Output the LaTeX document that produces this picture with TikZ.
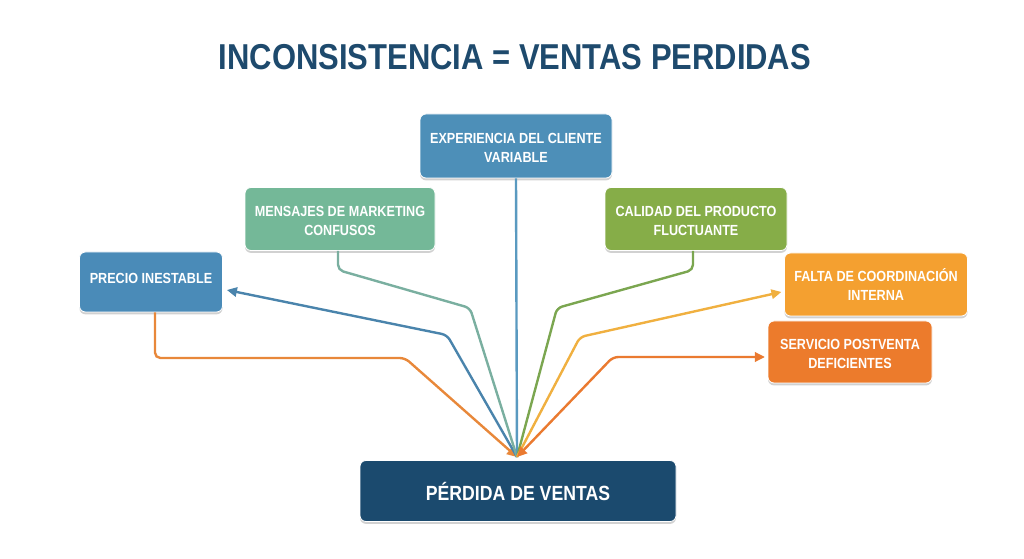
\documentclass[tikz,border=0pt]{standalone}
\usepackage{fontspec}
\setmainfont{Liberation Sans}[FakeStretch=0.86]
\usetikzlibrary{shadows,arrows.meta}
\definecolor{navy}{HTML}{1E4A6D}
\definecolor{cexp}{HTML}{4D8FB8}
\definecolor{cpre}{HTML}{4A8BB8}
\definecolor{cmen}{HTML}{74B898}
\definecolor{ccal}{HTML}{86AD48}
\definecolor{cfal}{HTML}{F4A030}
\definecolor{cser}{HTML}{EC7B2C}
\definecolor{cper}{HTML}{1B4A6E}
\definecolor{lblue}{HTML}{4A84AC}
\definecolor{lorange}{HTML}{E8883A}
\definecolor{lmen}{HTML}{7AAFA0}
\definecolor{lexp}{HTML}{5A9AC0}
\definecolor{lcal}{HTML}{7BA650}
\definecolor{lfal}{HTML}{F0B040}
\definecolor{lser}{HTML}{EA7A30}
\newcommand\bt[2][-2.2pt]{\raisebox{#1}[\height][\depth]{\begin{tabular}{@{}c@{}}#2\end{tabular}}}
\tikzset{
  box/.style={rounded corners=4.5pt, text=white, align=center, inner sep=0pt,
    font=\bfseries\fontsize{11}{14.3}\selectfont,
    draw=white, line width=0.6pt,
    drop shadow={shadow xshift=0pt, shadow yshift=-1.8pt, opacity=0.18, fill=black}},
  conn/.style={line width=1.8pt, rounded corners=4pt},
  tip/.style={-{Triangle[length=7.5pt,width=7pt]}},
}
\begin{document}
\begin{tikzpicture}[x=0.75pt,y=-0.75pt]
\useasboundingbox (0,0) rectangle (1024,559);
\node[text=navy, font=\bfseries\fontsize{27}{30}\selectfont] (title) at (515,57) {INCONSISTENCIA = VENTAS PERDIDAS};

\node[box, fill=cexp, minimum width=144pt, minimum height=48pt] (exp) at (516,146) {\bt{EXPERIENCIA DEL CLIENTE\\VARIABLE}};
\node[box, fill=cmen, minimum width=142.5pt, minimum height=47.25pt] (men) at (340,219) {\bt{MENSAJES DE MARKETING\\CONFUSOS}};
\node[box, fill=ccal, minimum width=136.5pt, minimum height=47.25pt] (cal) at (696,219) {\bt{CALIDAD DEL PRODUCTO\\FLUCTUANTE}};
\node[box, fill=cpre, minimum width=107.25pt, minimum height=45pt] (pre) at (151,282) {\bt[1.8pt]{PRECIO INESTABLE}};
\node[box, fill=cfal, minimum width=137.25pt, minimum height=47.25pt] (fal) at (876,284.5) {\bt{FALTA DE COORDINACIÓN\\INTERNA}};
\node[box, fill=cser, minimum width=123pt, minimum height=46.5pt] (ser) at (850,352) {\bt{SERVICIO POSTVENTA\\DEFICIENTES}};
\node[box, fill=cper, minimum width=237pt, minimum height=45.75pt, font=\bfseries\fontsize{15.4}{18}\selectfont] (per) at (518,491) {PÉRDIDA DE VENTAS};

\coordinate (conv) at (517,457);

% connectors
\draw[conn, lorange, tip] (pre.south -| 155,0) -- (155,358) -- (405,358) -- (conv);
\draw[conn, lblue, tip] (conv) -- (447,335) -- ([xshift=3pt,yshift=-6pt]pre.east);
\draw[conn, lmen] (men.south -| 338,0) -- (338,270) -- (470,308) -- (conv);
\draw[conn, lexp] (exp.south) -- (conv);
\draw[conn, lcal] (cal.south -| 693,0) -- (693,270) -- (557,308) -- (conv);
\draw[conn, lfal, tip] (conv) -- (580,337) -- ([xshift=-2pt,yshift=-5.6pt]fal.west);
\draw[conn, lser, {Triangle[length=7.5pt,width=7pt]}-{Triangle[length=7.5pt,width=7pt]}] (conv) -- (613,357) -- ([xshift=-2pt,yshift=-3.75pt]ser.west);
\end{tikzpicture}
\end{document}
